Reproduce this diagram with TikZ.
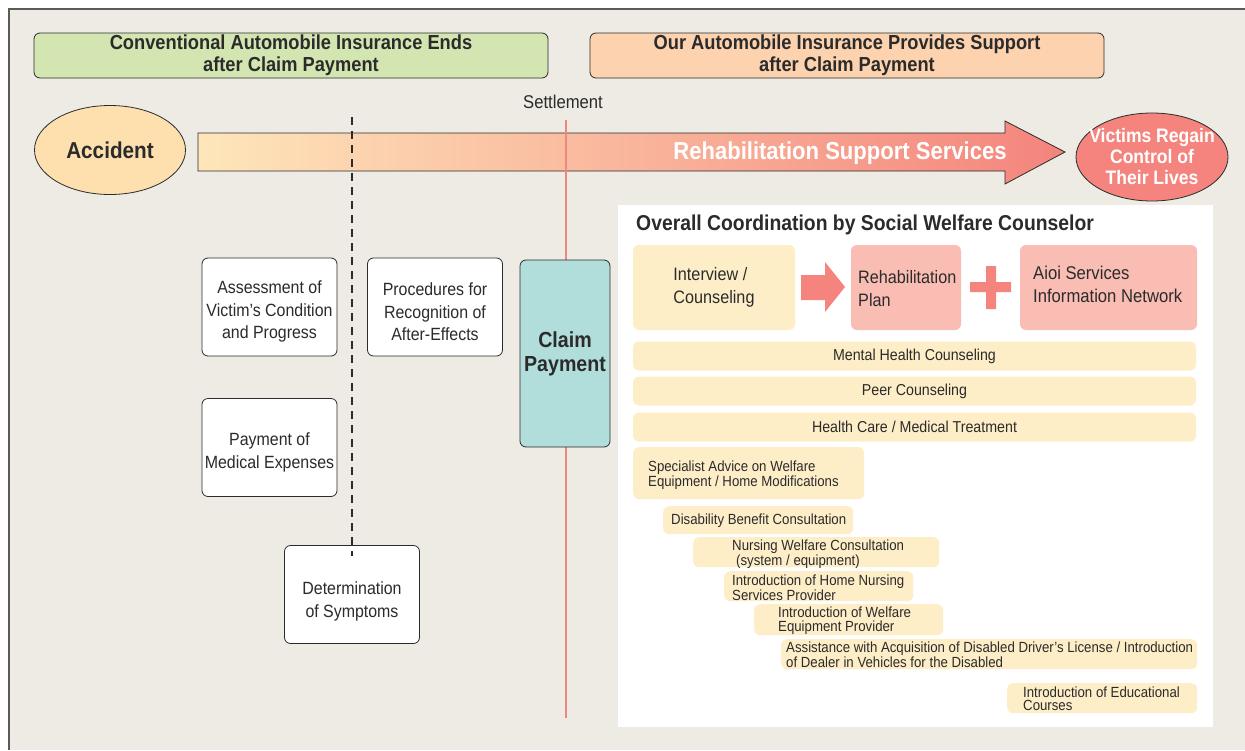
\documentclass[tikz,border=0pt]{standalone}
\usepackage{fontspec}
\setmainfont{Liberation Sans}[FakeStretch=0.9]
\usetikzlibrary{shapes.geometric}

\definecolor{bgbeige}{HTML}{EEEBE4}
\definecolor{framegray}{HTML}{5A5A5A}
\definecolor{inkdark}{HTML}{2B2B2B}
\definecolor{greenhead}{HTML}{D3E6B1}
\definecolor{peachhead}{HTML}{FDD2AE}
\definecolor{accidentfill}{HTML}{FEE0AE}
\definecolor{salmon}{HTML}{F4847D}
\definecolor{arrowstart}{HTML}{FEE6BA}
\definecolor{palepink}{HTML}{F9BDB4}
\definecolor{paleyellow}{HTML}{FEEEC8}
\definecolor{tealfill}{HTML}{B1DEDB}
\definecolor{settleline}{HTML}{F0877F}

\begin{document}
\begin{tikzpicture}
[x=1pt, y=-1pt,
 every node/.style={inner sep=0pt, text=inkdark},
 headbox/.style={rectangle, rounded corners=6pt, draw=inkdark, line width=0.8pt, minimum width=514pt, minimum height=45pt, align=center, font=\fontsize{20.3}{22}\selectfont\bfseries},
 stagebox/.style={rectangle, rounded corners=6pt, draw=inkdark, line width=0.8pt, fill=white, minimum width=135pt, minimum height=98pt, align=center, font=\fontsize{17.7}{22.5}\selectfont},
 planbox/.style={rectangle, rounded corners=6pt, minimum height=85pt},
 barbox/.style={rectangle, rounded corners=6pt, fill=paleyellow, minimum width=563pt, minimum height=29pt, font=\fontsize{15.8}{18}\selectfont},
 servbox/.style={rectangle, rounded corners=6pt, fill=paleyellow, anchor=north west},
 servtext/.style={anchor=west, align=left, font=\fontsize{14.7}{13.5}\selectfont}]
\useasboundingbox (0,0) rectangle (1245,750);
% frame
\fill [bgbeige] (9,9) rectangle (1245,750);
\draw [framegray, line width=1.2pt] (9,750) -- (9,9) -- (1245,9);

% headers
\node (conventional) [headbox, fill=greenhead] at (291, 55.5) {Conventional Automobile Insurance Ends\\after Claim Payment};
\node (ours) [headbox, fill=peachhead] at (847, 55.5) {Our Automobile Insurance Provides Support\\after Claim Payment};
\node (settlement) [font=\fontsize{18.5}{20}\selectfont] at (563, 102) {Settlement};

% timeline
\node (accident) [ellipse, draw=inkdark, line width=0.8pt, fill=accidentfill, minimum width=151pt, minimum height=89pt, font=\fontsize{23}{28}\selectfont\bfseries] at (110, 150) {Accident};
\draw [inkdark, line width=0.8pt, left color=arrowstart, right color=salmon]
  (198,133) -- (1005,133) -- (1005,121) -- (1065,152) -- (1005,184) -- (1005,171) -- (198,171) -- cycle;
\node (rehab) [text=white, font=\fontsize{24.5}{28}\selectfont\bfseries] at (840, 153) {Rehabilitation Support Services};
\node (regain) [ellipse, draw=inkdark, line width=0.8pt, fill=salmon, inner xsep=-9pt, minimum width=152pt, minimum height=88pt, align=center, text=white, font=\fontsize{19.5}{21}\selectfont\bfseries] at (1152, 157) {Victims Regain\\Control of\\Their Lives};

% time markers
\coordinate (dashtop) at (352, 117);
\coordinate (dashend) at (352, 556);
\coordinate (settletop) at (566, 120);
\coordinate (settleend) at (566, 718);
\draw [settleline, line width=2pt] (settletop) -- (settleend);

% conventional stages
\node (assessment) [stagebox] at (269.5, 307) {\rule{0pt}{6pt}\\[-6pt]Assessment of\\Victim’s Condition\\and Progress};
\node (procedures) [stagebox] at (435, 307) {\rule{0pt}{6pt}\\[-6pt]Procedures for\\Recognition of\\After-Effects};
\node (medical) [stagebox] at (269.5, 447.5) {\rule{0pt}{6pt}\\[-6pt]Payment of\\Medical Expenses};
\node (symptoms) [stagebox] at (352, 594.5) {\rule{0pt}{10pt}\\[-6pt]Determination\\of Symptoms};
\draw [inkdark, line width=2.6pt, dash pattern=on 8pt off 6pt] (dashtop) -- (dashend);
\node (claim) [rectangle, rounded corners=6pt, draw=inkdark, line width=0.8pt, fill=tealfill, minimum width=90pt, minimum height=187pt, align=center, font=\fontsize{21.8}{24}\selectfont\bfseries] at (565, 353.5) {Claim\\Payment};

% support panel
\fill [white] (618,205) rectangle (1213,727);
\node (coordination) [anchor=west, font=\fontsize{21.5}{22}\selectfont\bfseries] at (636, 225) {Overall Coordination by Social Welfare Counselor};
\node (interview) [planbox, fill=paleyellow, minimum width=162pt, align=left, font=\fontsize{18}{23}\selectfont] at (714, 287.5) {Interview /\\Counseling};
\fill [salmon] (801,275) -- (825,275) -- (825,262) -- (845,287) -- (825,312) -- (825,300) -- (801,300) -- cycle;
\node (plan) [planbox, fill=palepink, minimum width=110pt] at (906, 287.5) {};
\node (plantext) [anchor=west, align=left, font=\fontsize{18}{23}\selectfont] at (858, 289) {Rehabilitation\\Plan};
\fill [salmon] (970,282) rectangle (1011,292) (986,266) rectangle (996,309);
\node (aioi) [planbox, fill=palepink, minimum width=177pt] at (1108.5, 287.5) {};
\node (aioitext) [anchor=west, align=left, font=\fontsize{18.5}{23}\selectfont] at (1033, 284.5) {Aioi Services\\Information Network};

\node (mental) [barbox] at (914.5, 356) {Mental Health Counseling};
\node (peer) [barbox] at (914.5, 391) {Peer Counseling};
\node (healthcare) [barbox] at (914.5, 427) {Health Care / Medical Treatment};

\node (specialist) [servbox, minimum width=231pt, minimum height=52pt] at (633, 447) {};
\node (specialisttext) [servtext] at (648, 475) {Specialist Advice on Welfare\\Equipment / Home Modifications};
\node (disability) [servbox, minimum width=190pt, minimum height=28pt] at (663, 506) {};
\node (disabilitytext) [servtext] at (671, 520.5) {Disability Benefit Consultation};
\node (nursing) [servbox, minimum width=246pt, minimum height=30pt] at (693, 537) {};
\node (nursingtext) [servtext] at (732, 554) {Nursing Welfare Consultation\\\hspace*{4pt}(system / equipment)};
\node (homecare) [servbox, minimum width=189pt, minimum height=30pt] at (724, 571) {};
\node (homecaretext) [servtext] at (732, 587.5) {Introduction of Home Nursing\\Services Provider};
\node (equipment) [servbox, minimum width=189pt, minimum height=31pt] at (754, 604) {};
\node (equipmenttext) [servtext] at (778, 620.5) {Introduction of Welfare\\Equipment Provider};
\node (driving) [servbox, minimum width=416pt, minimum height=30pt] at (781, 639) {};
\node (drivingtext) [servtext] at (786, 654.5) {Assistance with Acquisition of Disabled Driver’s License / Introduction\\of Dealer in Vehicles for the Disabled};
\node (education) [servbox, minimum width=190pt, minimum height=30pt] at (1007, 683) {};
\node (educationtext) [servtext] at (1023, 698.5) {Introduction of Educational\\Courses};

\end{tikzpicture}
\end{document}
